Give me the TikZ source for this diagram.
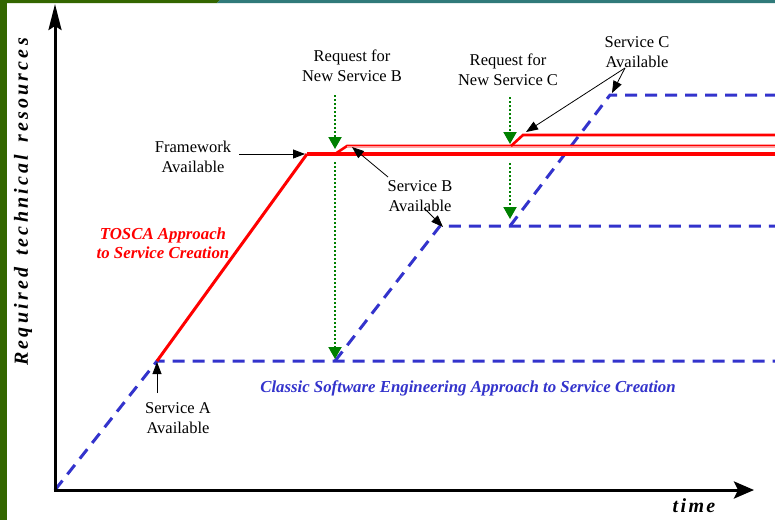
\documentclass[tikz,border=0pt]{standalone}
\usepackage{fontspec}
\setmainfont{Liberation Serif}
\usetikzlibrary{arrows.meta}
\definecolor{barGreen}{RGB}{51,102,0}
\definecolor{barTeal}{RGB}{48,122,122}
\definecolor{classicBlue}{RGB}{51,51,204}
\definecolor{reqGreen}{RGB}{0,128,0}
\tikzset{
  lbl/.style={font=\fontsize{16.5}{19.5}\selectfont, align=center, inner sep=0pt, text=black},
  axis/.style={line width=3pt, -{Stealth[length=26pt,width=13pt,inset=4pt]}},
  classic/.style={classicBlue, line width=3pt, dash pattern=on 12pt off 8pt},
  tosca/.style={red, line width=4pt},
  toscathin/.style={red, line width=2.6pt},
  request/.style={reqGreen, line width=2pt, dash pattern=on 2pt off 2pt,
    -{Triangle[width=13pt,length=12pt]}},
  note/.style={black, line width=0.8pt, -{Triangle[width=9pt,length=12pt]}},
  italbold/.style={font=\fontsize{16.8}{19.5}\selectfont\bfseries\itshape, inner sep=0pt}
}
\begin{document}
\begin{tikzpicture}[x=1pt,y=-1pt]
\useasboundingbox (0,0) rectangle (775,520);
\fill[white] (0,0) rectangle (775,520);
% frame bars
\fill[barGreen] (0,0) rectangle (7,520);
\fill[barGreen] (0,0) -- (220,0) -- (217,3) -- (0,3) -- cycle;
\fill[barTeal] (220,0) -- (775,0) -- (775,3) -- (217,3) -- cycle;

% key points of the curves
\coordinate (O) at (55,490);
\coordinate (yTop) at (55,4);
\coordinate (xEnd) at (754,490);
\coordinate (A) at (157,361);
\coordinate (Aend) at (775,361);
\coordinate (Bstart) at (335,361);
\coordinate (B) at (440,226);
\coordinate (Bend) at (775,226);
\coordinate (Cstart) at (510,226);
\coordinate (C) at (610,95);
\coordinate (Cend) at (775,95);
\coordinate (F) at (307,154);
\coordinate (Fend) at (775,154);
\coordinate (RB0) at (335,154);
\coordinate (RB) at (347,146);
\coordinate (RBend) at (775,146);
\coordinate (RC0) at (511,146);
\coordinate (RC) at (523,135);
\coordinate (RCend) at (775,135);

% classic approach (dashed blue)
\draw[classic] (O) -- (A) -- (Aend);
\draw[classic] (Bstart) -- (B) -- (Bend);
\draw[classic] (Cstart) -- (C) -- (Cend);

% TOSCA approach (red)
\draw[red, line width=3pt] (A) -- (F);
\draw[tosca] (F) -- (Fend);
\draw[toscathin] (RB0) -- (RB) -- (RBend);
\draw[red!40, line width=0.7pt] (RB) -- (RBend);
\draw[toscathin] (RC0) -- (RC) -- (RCend);

% axes
\draw[axis] (O) -- (yTop);
\draw[axis, -{Stealth[length=20pt,width=17pt,inset=4pt]}] ([xshift=-1.5pt]O) -- (xEnd);

% request arrows (green dotted)
\coordinate (gB0) at (335,95);
\coordinate (gB1) at (335,149);
\coordinate (gB2) at (335,162);
\coordinate (gB3) at (335,359);
\coordinate (gC0) at (510,97);
\coordinate (gC1) at (510,144);
\coordinate (gC2) at (510,163);
\coordinate (gC3) at (510,219);
\draw[request] (gB0) -- (gB1);
\draw[request] (gB2) -- (gB3);
\draw[request] (gC0) -- (gC1);
\draw[request] (gC2) -- (gC3);

% labels
\node[lbl] (fw) at (193,157) {Framework\\Available};
\node[lbl] (reqB) at (352,66) {Request for\\New Service B};
\node[lbl] (reqC) at (508,70) {Request for\\New Service C};
\node[lbl] (svcC) at (637,52) {Service C\\Available};
\node[lbl] (svcB) at (420,196) {Service B\\Available};
\node[lbl] (svcA) at (178,418) {Service A\\Available};
\node[italbold, red, align=center] (toscaL) at (163,243) {TOSCA Approach\\to Service Creation};
\node[italbold, classicBlue] (classicL) at (468,388) {Classic Software Engineering Approach to Service Creation};
\node[inner sep=0pt, font=\fontsize{20}{22}\selectfont\bfseries\itshape\addfontfeatures{LetterSpace=12}] (timeL) at (694,506) {time};
\node[inner sep=0pt, rotate=90, font=\fontsize{20}{22}\selectfont\bfseries\itshape\addfontfeatures{LetterSpace=16}] (yL) at (23,202) {Required\hspace{12pt}technical\hspace{12pt}resources};

% annotation arrows
\coordinate (fwTip) at (305,154);
\coordinate (svcBa) at (388,177);
\coordinate (svcBtip) at (352,147);
\coordinate (svcBb) at (424,208);
\coordinate (svcBtip2) at (443,227);
\coordinate (svcCa) at (625,68);
\coordinate (svcCtip) at (526,132);
\coordinate (svcCtip2) at (612,93);
\coordinate (svcAa) at (157,393);
\coordinate (svcAtip) at (157,362);
\draw[note] (fw.east |- fwTip) ++(8,0) coordinate (fwFrom) -- (fwTip);
\draw[note] (svcBa) -- (svcBtip);
\draw[note] (svcBb) -- (svcBtip2);
\draw[note] (svcCa) -- (svcCtip);
\draw[note] (svcCa) -- (svcCtip2);
\draw[note] (svcAa) -- (svcAtip);
\end{tikzpicture}
\end{document}
